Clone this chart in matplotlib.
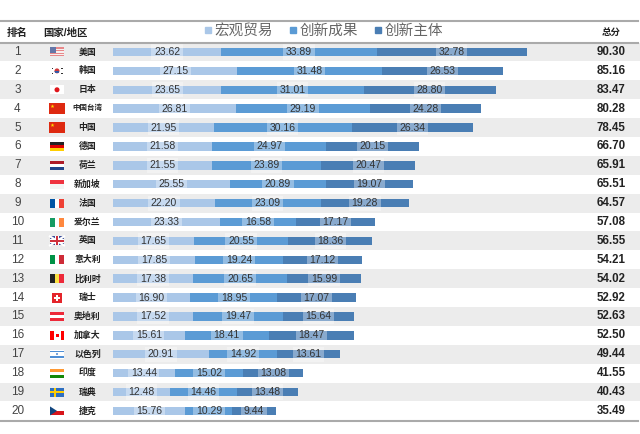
import matplotlib.pyplot as plt
import numpy as np
from matplotlib.lines import Line2D
from matplotlib.patches import Rectangle, Ellipse, Polygon

plt.rcParams['font.family'] = ['Liberation Sans', 'Noto Sans CJK SC', 'DejaVu Sans']

ranks = list(range(1, 21))
countries = ['美国', '韩国', '日本', '中国台湾', '中国', '德国', '荷兰', '新加坡', '法国', '爱尔兰',
             '英国', '意大利', '比利时', '瑞士', '奥地利', '加拿大', '以色列', '印度', '瑞典', '捷克']
flags = ['us', 'kr', 'jp', 'cn', 'cn', 'de', 'nl', 'sg', 'fr', 'ie',
         'gb', 'it', 'be', 'ch', 'at', 'ca', 'il', 'in', 'se', 'cz']
macro = [23.62, 27.15, 23.65, 26.81, 21.95, 21.58, 21.55, 25.55, 22.20, 23.33,
         17.65, 17.85, 17.38, 16.90, 17.52, 15.61, 20.91, 13.44, 12.48, 15.76]
outcome = [33.89, 31.48, 31.01, 29.19, 30.16, 24.97, 23.89, 20.89, 23.09, 16.58,
           20.55, 19.24, 20.65, 18.95, 19.47, 18.41, 14.92, 15.02, 14.46, 10.29]
subject = [32.78, 26.53, 28.80, 24.28, 26.34, 20.15, 20.47, 19.07, 19.28, 17.17,
           18.36, 17.12, 15.99, 17.07, 15.64, 18.47, 13.61, 13.08, 13.48, 9.44]
totals = [90.30, 85.16, 83.47, 80.28, 78.45, 66.70, 65.91, 65.51, 64.57, 57.08,
          56.55, 54.21, 54.02, 52.92, 52.63, 52.50, 49.44, 41.55, 40.43, 35.49]
series_names = ['宏观贸易', '创新成果', '创新主体']
series_colors = ['#aac7e8', '#5b9bd5', '#4a7eb4']

W, H = 640, 434
X0 = 113        # px where bars start
XS = 4.585      # px per score unit
Y0 = 52         # px of first row centre
YS = 18.89      # px per row


def px_x(px):
    return (px - X0) / XS


def px_y(px):
    return (px - Y0) / YS


fig = plt.figure(figsize=(W / 100, H / 100), dpi=100)
ax = fig.add_axes([0, 0, 1, 1])
ax.set_xlim(px_x(0), px_x(W))
ax.set_ylim(px_y(H), px_y(0))
ax.axis('off')

n = len(countries)
y = np.arange(n)

# row shading
for i in range(n):
    if i % 2 == 0:
        ax.axhspan(i - 0.5, i + 0.5, color='#ececec', lw=0, zorder=0)

# stacked bars
left = np.zeros(n)
for vals, color in zip([macro, outcome, subject], series_colors):
    vals = np.array(vals)
    bars = ax.barh(y, vals, left=left, height=0.45, color=color, lw=0, zorder=2)
    for b, v in zip(bars, vals):
        ax.text(b.get_x() + b.get_width() / 2, b.get_y() + b.get_height() / 2, f'{v:.2f}',
                ha='center', va='center', fontsize=7.5, color='#333333', zorder=4,
                bbox=dict(boxstyle='square,pad=0.25', fc='white', ec='none', alpha=0.35))
    left += vals

# rank, name, total
for i in range(n):
    ax.text(px_x(17.5), i, str(ranks[i]), ha='center', va='center', fontsize=8.5, color='#444444')
    fs = 5.4 if len(countries[i]) > 3 else 6.4
    ax.text(px_x(87.5), i, countries[i], ha='center', va='center', fontsize=fs,
            fontweight='bold', color='#222222')
    ax.text(px_x(611), i, f'{totals[i]:.2f}', ha='center', va='center', fontsize=8.3,
            fontweight='bold', color='#222222')


def rect(x0, y0, w, h, color, zorder=3):
    # x0, y0, w, h in px relative to flag top-left
    ax.add_patch(Rectangle((px_x(x0), px_y(y0)), w / XS, h / YS, color=color, lw=0, zorder=zorder))


def disc(cx, cy, d, color, zorder=4):
    ax.add_patch(Ellipse((px_x(cx), px_y(cy)), d / XS, d / YS, color=color, lw=0, zorder=zorder))


def draw_flag(code, row):
    fw, fh = 14, 9
    cx = 57
    cy = Y0 + row * YS
    fx, fy = cx - fw / 2, cy - fh / 2
    if code == 'us':
        for k in range(7):
            rect(fx, fy + k * fh / 7, fw, fh / 7, '#e8888a' if k % 2 == 0 else '#f6f0f0')
        rect(fx, fy, fw * 0.42, fh * 4 / 7, '#6477a8', 4)
    elif code == 'kr':
        disc(cx, cy, 5, '#d23a3a', 4)
        ax.add_patch(Rectangle((px_x(cx - 2.5), px_y(cy)), 5 / XS, 2.5 / YS, color='#2f5aa8',
                               lw=0, zorder=5, clip_path=None))
        disc(cx, cy, 5, '#2f5aa8', 4.5)
        ax.patches[-1].set_clip_path(ax.patches[-2])
        ax.patches[-2].set_visible(False)
        for dx, dy in [(-5.5, -3.2), (4.3, -3.2), (-5.5, 2), (4.3, 2)]:
            rect(cx + dx, cy + dy, 1.3, 1.2, '#333333')
    elif code == 'jp':
        rect(fx, fy, fw, fh, '#ffffff')
        disc(cx, cy, 5, '#e0151b', 4)
    elif code == 'cn':
        fw2, fh2 = 16, 11
        rect(cx - fw2 / 2, cy - fh2 / 2, fw2, fh2, '#de2910')
        pts = []
        scx, scy = cx - 4.5, cy - 2.3
        for k in range(10):
            r = 2.0 if k % 2 == 0 else 0.8
            a = np.pi / 2 + k * np.pi / 5
            pts.append((px_x(scx + r * np.cos(a)), px_y(scy - r * np.sin(a))))
        ax.add_patch(Polygon(pts, color='#ffde00', lw=0, zorder=4))
    elif code in ('de', 'nl', 'at', 'in'):
        cols = {'de': ['#222222', '#dd0000', '#ffce00'],
                'nl': ['#ae1c28', '#ffffff', '#21468b'],
                'at': ['#ed2939', '#ffffff', '#ed2939'],
                'in': ['#ff9933', '#ffffff', '#138808']}[code]
        for k, c in enumerate(cols):
            rect(fx, fy + k * fh / 3, fw, fh / 3, c)
    elif code in ('fr', 'ie', 'it', 'be', 'ca'):
        cols = {'fr': ['#0055a4', '#ffffff', '#ef4135'],
                'ie': ['#169b62', '#ffffff', '#ff883e'],
                'it': ['#009246', '#ffffff', '#ce2b37'],
                'be': ['#222222', '#fae042', '#ed2939'],
                'ca': ['#ff0000', '#ffffff', '#ff0000']}[code]
        widths = [0.25, 0.5, 0.25] if code == 'ca' else [1 / 3] * 3
        xx = fx
        for c, w in zip(cols, widths):
            rect(xx, fy, fw * w, fh, c)
            xx += fw * w
        if code == 'ca':
            rect(cx - 1.5, cy - 1.5, 3, 3, '#ff0000', 4)
    elif code == 'sg':
        rect(fx, fy, fw, fh / 2, '#ef3340')
        rect(fx, fy + fh / 2, fw, fh / 2, '#f4f4f4')
    elif code == 'gb':
        rect(fx, fy, fw, fh, '#3a4d9a')
        ax.plot([px_x(fx), px_x(fx + fw)], [px_y(fy), px_y(fy + fh)], color='white', lw=1.6, zorder=4)
        ax.plot([px_x(fx), px_x(fx + fw)], [px_y(fy + fh), px_y(fy)], color='white', lw=1.6, zorder=4)
        rect(cx - 1.8, fy, 3.6, fh, '#ffffff', 5)
        rect(fx, cy - 1.8, fw, 3.6, '#ffffff', 5)
        rect(cx - 1, fy, 2, fh, '#d0303c', 6)
        rect(fx, cy - 1, fw, 2, '#d0303c', 6)
    elif code == 'ch':
        rect(cx - 5, fy - 0.5, 10, 10, '#e4252b')
        rect(cx - 1, cy - 3, 2, 6, '#ffffff', 4)
        rect(cx - 3, cy - 1, 6, 2, '#ffffff', 4)
    elif code == 'il':
        rect(fx, fy, fw, fh, '#ffffff')
        rect(fx, fy + 1, fw, 1.3, '#4f8fd6', 4)
        rect(fx, fy + fh - 2.3, fw, 1.3, '#4f8fd6', 4)
        rect(cx - 1, cy - 1, 2, 2, '#7aa6dc', 4)
    elif code == 'se':
        rect(fx, fy, fw, fh, '#2f6fc0')
        rect(fx + 4, fy, 2, fh, '#fecc02', 4)
        rect(fx, cy - 1, fw, 2, '#fecc02', 4)
    elif code == 'cz':
        rect(fx, fy, fw, fh / 2, '#ffffff')
        rect(fx, fy + fh / 2, fw, fh / 2, '#d7141a')
        tri = [(px_x(fx), px_y(fy)), (px_x(fx + fw / 2), px_y(cy)), (px_x(fx), px_y(fy + fh))]
        ax.add_patch(Polygon(tri, color='#11457e', lw=0, zorder=4))


for i, code in enumerate(flags):
    draw_flag(code, i)

# header
ax.text(px_x(17), px_y(33), '排名', ha='center', va='center', fontsize=7.5, fontweight='bold', color='#222222')
ax.text(px_x(65), px_y(33), '国家/地区', ha='center', va='center', fontsize=7.5, fontweight='bold', color='#222222')
ax.text(px_x(611), px_y(33), '总分', ha='center', va='center', fontsize=6.8, fontweight='bold', color='#222222')

handles = [Line2D([], [], marker='s', ls='', markersize=5, color=c) for c in series_colors]
ax.legend(handles, series_names, loc='center', bbox_to_anchor=(323 / W, 1 - 31 / H), ncol=3,
          frameon=False, fontsize=10.5, handletextpad=0.1, columnspacing=1.0, handlelength=0.7,
          labelcolor='#666666', borderaxespad=0, borderpad=0)

# table rules
for ypx, lw in [(21, 1.5), (43, 1.5), (421, 1.5)]:
    ax.plot([px_x(1), px_x(638)], [px_y(ypx), px_y(ypx)], color='#aaaaaa', lw=lw, zorder=5)

fig.savefig('out.png', dpi=100)
